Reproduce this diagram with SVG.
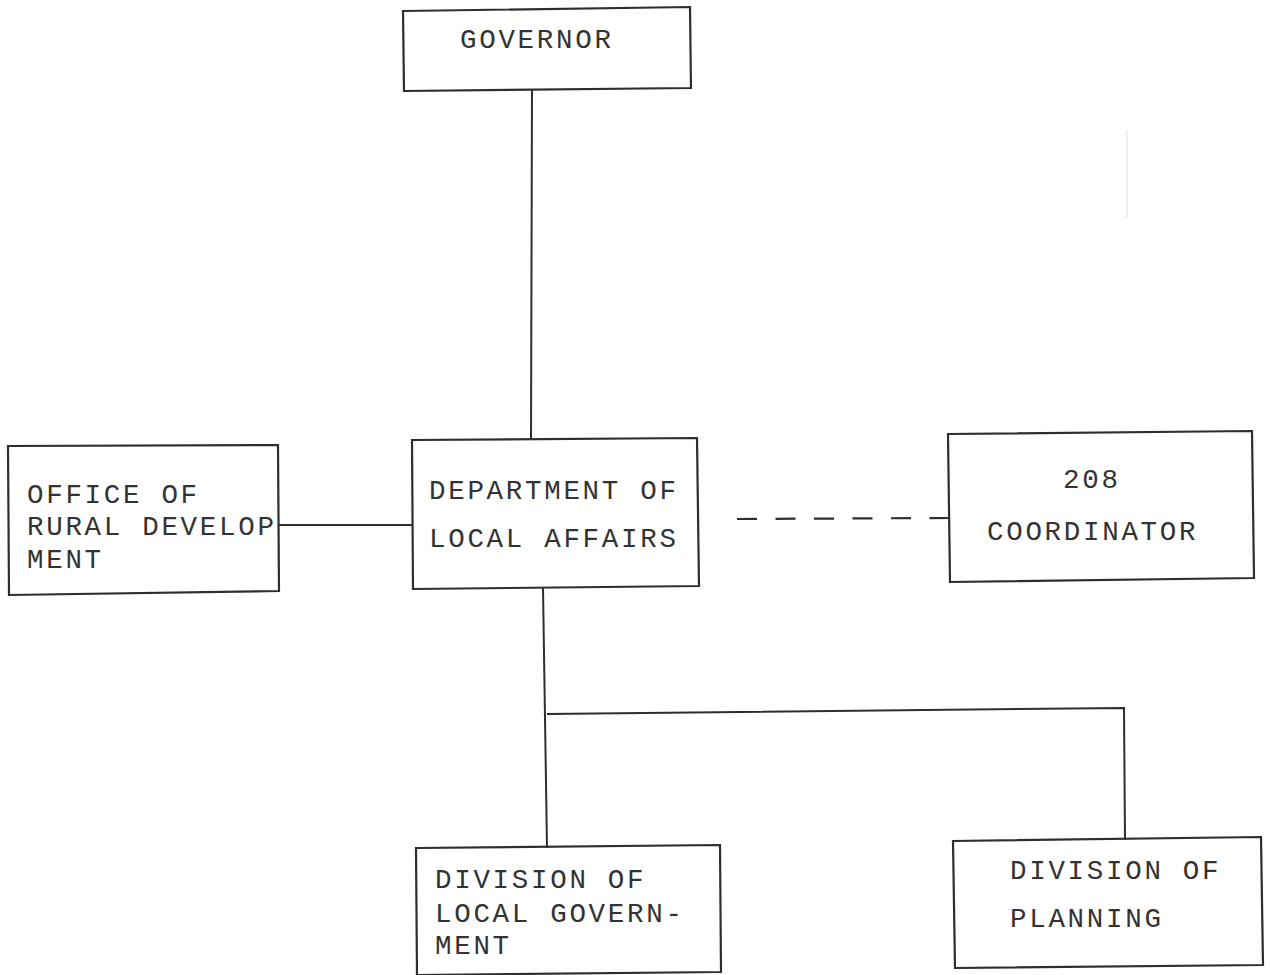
<svg xmlns="http://www.w3.org/2000/svg" width="1270" height="975" viewBox="0 0 1270 975">
  <style>
    .box { fill: none; stroke: #2e2e2e; stroke-width: 2.2; }
    .wire { fill: none; stroke: #2e2e2e; stroke-width: 2; }
    .dash { fill: none; stroke: #2e2e2e; stroke-width: 2.2; stroke-dasharray: 20 18.5; }
    .lbl { font-family: "Liberation Mono", "DejaVu Sans Mono", monospace; font-size: 27.5px; letter-spacing: 2.7px; fill: #333; }
  </style>
  <rect x="0" y="0" width="1270" height="975" fill="#ffffff"/>

  <!-- faint ruled mark at upper right -->
  <line x1="1127" y1="130" x2="1127" y2="218" stroke="#e4e4e4" stroke-width="1.2"/>

  <!-- connectors -->
  <g id="connectors">
    <line class="wire" x1="532" y1="90" x2="531" y2="438"/>
    <line class="wire" x1="279" y1="525" x2="413" y2="525"/>
    <line class="dash" x1="737" y1="519" x2="949" y2="518"/>
    <line class="wire" x1="543" y1="588" x2="547" y2="848"/>
    <polyline class="wire" points="547,714 1124,708 1125,840"/>
  </g>

  <g id="governor">
    <polygon class="box" points="403,11 690,7 691,88 404,91"/>
    <text class="lbl" x="460" y="48">GOVERNOR</text>
  </g>

  <g id="office-rural-development">
    <polygon class="box" points="8,446 278,445 279,591 9,595"/>
    <text class="lbl" x="27" y="503">OFFICE OF</text>
    <text class="lbl" x="27" y="535">RURAL DEVELOP</text>
    <text class="lbl" x="27" y="568">MENT</text>
  </g>

  <g id="department-local-affairs">
    <polygon class="box" points="412,440 697,438 699,586 413,589"/>
    <text class="lbl" x="429" y="499">DEPARTMENT OF</text>
    <text class="lbl" x="429" y="547">LOCAL AFFAIRS</text>
  </g>

  <g id="coordinator-208">
    <polygon class="box" points="948,434 1252,431 1254,578 950,582"/>
    <text class="lbl" x="1063" y="488">208</text>
    <text class="lbl" x="987" y="540">COORDINATOR</text>
  </g>

  <g id="division-local-government">
    <polygon class="box" points="416,848 720,845 721,972 417,975"/>
    <text class="lbl" x="435" y="888">DIVISION OF</text>
    <text class="lbl" x="435" y="922">LOCAL GOVERN-</text>
    <text class="lbl" x="435" y="954">MENT</text>
  </g>

  <g id="division-planning">
    <polygon class="box" points="953,841 1261,837 1263,965 955,968"/>
    <text class="lbl" x="1010" y="879">DIVISION OF</text>
    <text class="lbl" x="1010" y="927">PLANNING</text>
  </g>
</svg>
